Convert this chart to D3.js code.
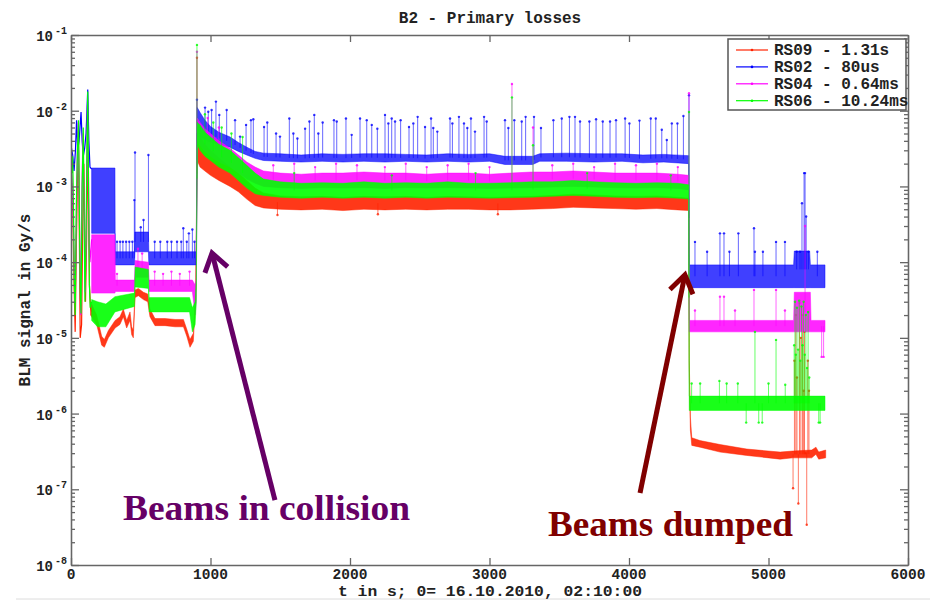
<!DOCTYPE html>
<html>
<head>
<meta charset="utf-8">
<script src="https://cdn.jsdelivr.net/npm/d3@7/dist/d3.min.js"></script>
<style>
body { margin: 0; background: #fff; }
</style>
</head>
<body>
<div id="chart"></div>
<script>
// tick labels
var xTicks = [0, 1000, 2000, 3000, 4000, 5000, 6000];
var yDecades = [1e-8, 1e-7, 1e-6, 1e-5, 1e-4, 1e-3, 1e-2, 1e-1];
var yExponents = ["-8", "-7", "-6", "-5", "-4", "-3", "-2", "-1"];

var seriesNames = ["RS09 - 1.31s", "RS02 - 80us", "RS04 - 0.64ms", "RS06 - 10.24ms"];
var colors = ["#ff2200", "#0000ff", "#ff00ff", "#00ff00"];
var bandOpacity = [0.9, 0.75, 0.85, 0.9];

// first 150 s, read point by point  [t, value]
var redEarly = [[0, 8e-4], [8, 1.1e-3], [14, 4e-4], [22, 5e-5], [30, 1.2e-5], [38, 1.5e-4], [46, 1.2e-3],
    [54, 3e-3], [60, 2e-4], [66, 1e-5], [76, 1.5e-5], [84, 3e-4], [92, 2e-3], [98, 3e-4], [104, 3e-5],
    [112, 2e-4], [120, 3.7e-3], [126, 5e-4], [132, 5e-5], [140, 2.5e-5], [148, 2.2e-5]];
var blueEarly = [[0, 3.5e-3], [12, 2.6e-3], [22, 1.6e-3], [32, 3e-3], [40, 7.5e-3], [48, 3e-3], [58, 4e-3],
    [72, 9.6e-3], [80, 4e-3], [88, 2.5e-3], [98, 3.2e-3], [108, 5e-3], [120, 1.9e-2], [128, 4e-3],
    [136, 1.8e-3], [148, 1.7e-3]];
var pinkEarly = [[0, 2e-3], [8, 1.2e-3], [16, 4e-4], [24, 8e-5], [30, 3e-5], [36, 2e-4], [44, 2e-3],
    [52, 7e-3], [58, 1e-3], [64, 1e-4], [70, 2e-5], [78, 8e-4], [86, 5e-3], [94, 6e-4], [102, 4e-5],
    [110, 3e-4], [118, 1.2e-2], [124, 2e-3], [130, 2e-4], [136, 1e-4], [148, 2e-4]];
var greenEarly = [[0, 2.2e-3], [6, 1.5e-3], [12, 2.5e-3], [18, 5e-4], [24, 5e-5], [30, 2e-5], [38, 5e-4],
    [46, 3e-3], [54, 7.5e-3], [60, 5e-4], [66, 4e-5], [72, 2.1e-5], [80, 1e-3], [88, 6e-3], [94, 4e-4],
    [100, 3e-5], [108, 2e-4], [114, 3e-3], [120, 1.8e-2], [126, 1e-3], [132, 5e-5], [138, 2.5e-5], [148, 3e-5]];

// noise band of each signal  [t, low, high]
var redBand = [[140, 2e-5, 3e-5], [184, 1.5e-5, 2e-5], [220, 8e-6, 1.05e-5], [239, 7.5e-6, 9.5e-6],
    [268, 1e-5, 1.25e-5], [316, 1.35e-5, 1.7e-5], [351, 1.5e-5, 1.9e-5], [375, 1.9e-5, 2.4e-5],
    [399, 1.35e-5, 1.7e-5], [423, 1.7e-5, 2.2e-5], [435, 1.1e-5, 1.4e-5], [447, 1e-5, 1.25e-5],
    [459, 3.4e-5, 4.3e-5], [483, 3.6e-5, 4.5e-5], [519, 3.2e-5, 4e-5], [550, 3e-5, 3.8e-5],
    [566, 1.9e-5, 2.4e-5], [602, 1.45e-5, 1.8e-5], [674, 1.45e-5, 1.8e-5], [746, 1.4e-5, 1.75e-5],
    [806, 1.4e-5, 1.75e-5], [830, 1.05e-5, 1.3e-5], [853, 7.5e-6, 9.5e-6], [877, 9e-6, 1.15e-5],
    [894, 3.4e-5, 4.5e-5], [905, 2.2e-3, 5e-3], [925, 1.8e-3, 4.5e-3], [960, 1.6e-3, 3.6e-3],
    [1000, 1.4e-3, 3e-3], [1060, 1.2e-3, 2.4e-3], [1140, 1e-3, 1.8e-3], [1200, 8.5e-4, 1.5e-3],
    [1260, 6.8e-4, 1.2e-3], [1320, 5.6e-4, 9.5e-4], [1380, 5.2e-4, 8.2e-4], [1500, 5.0e-4, 7.5e-4],
    [1650, 4.9e-4, 7.3e-4], [1800, 5.0e-4, 7.4e-4], [1950, 4.8e-4, 7.2e-4], [2100, 5.0e-4, 7.4e-4],
    [2250, 4.9e-4, 7.3e-4], [2400, 5.0e-4, 7.4e-4], [2550, 4.9e-4, 7.2e-4], [2700, 5.0e-4, 7.4e-4],
    [2850, 5.0e-4, 7.3e-4], [3000, 4.9e-4, 7.2e-4], [3150, 4.9e-4, 7.3e-4], [3300, 5.0e-4, 7.4e-4],
    [3450, 5.1e-4, 7.6e-4], [3600, 5.3e-4, 7.9e-4], [3750, 5.2e-4, 7.7e-4], [3900, 5.1e-4, 7.5e-4],
    [4050, 5.0e-4, 7.4e-4], [4200, 5.1e-4, 7.5e-4], [4350, 4.9e-4, 7.2e-4], [4428, 4.8e-4, 7.0e-4],
    [4432, 3.5e-6, 5e-6], [4440, 6e-7, 9e-7], [4450, 3.8e-7, 4.8e-7], [4509, 3.6e-7, 4.4e-7],
    [4653, 3.1e-7, 3.9e-7], [4844, 2.8e-7, 3.4e-7], [5083, 2.5e-7, 3.1e-7], [5175, 2.6e-7, 3.2e-7],
    [5310, 2.6e-7, 3.3e-7], [5340, 2.9e-7, 3.6e-7], [5360, 2.5e-7, 3.1e-7], [5410, 2.6e-7, 3.3e-7]];
var blueBand = [[148, 2.4e-4, 1.75e-3], [315, 2.4e-4, 1.75e-3], [317, 9.2e-5, 1.37e-4], [455, 9.2e-5, 1.37e-4],
    [458, 1.37e-4, 2.5e-4], [555, 1.37e-4, 2.5e-4], [558, 9.2e-5, 1.37e-4], [898, 9.2e-5, 1.37e-4],
    [905, 5e-3, 1.1e-2], [925, 4.5e-3, 9.5e-3], [960, 4.2e-3, 7.5e-3], [1000, 3.8e-3, 6.2e-3],
    [1060, 3.6e-3, 5.2e-3], [1140, 3.3e-3, 4.5e-3], [1200, 2.9e-3, 3.8e-3], [1260, 2.6e-3, 3.3e-3],
    [1320, 2.35e-3, 2.9e-3], [1380, 2.2e-3, 2.75e-3], [1500, 2.15e-3, 2.7e-3], [1650, 2.1e-3, 2.6e-3],
    [1800, 2.15e-3, 2.7e-3], [1950, 2.1e-3, 2.65e-3], [2100, 2.15e-3, 2.7e-3], [2250, 2.1e-3, 2.7e-3],
    [2400, 2.15e-3, 2.65e-3], [2550, 2.1e-3, 2.6e-3], [2700, 2.15e-3, 2.7e-3], [2850, 2.1e-3, 2.65e-3],
    [3000, 2.15e-3, 2.7e-3], [3110, 1.95e-3, 2.5e-3], [3310, 1.95e-3, 2.5e-3], [3360, 2.15e-3, 2.7e-3],
    [3550, 2.15e-3, 2.75e-3], [3750, 2.1e-3, 2.7e-3], [3950, 2.15e-3, 2.7e-3], [4100, 2.05e-3, 2.6e-3],
    [4250, 2.1e-3, 2.65e-3], [4428, 2.0e-3, 2.55e-3], [4432, 4.6e-5, 9.2e-5], [5180, 4.6e-5, 9.2e-5],
    [5185, 4.6e-5, 1.4e-4], [5295, 4.6e-5, 1.4e-4], [5300, 4.6e-5, 9.2e-5], [5405, 4.6e-5, 9.2e-5]];
var pinkBand = [[148, 3.9e-5, 2.3e-4], [315, 3.9e-5, 2.3e-4], [318, 4.1e-5, 5.8e-5], [455, 4.1e-5, 5.8e-5],
    [460, 6.3e-5, 1.05e-4], [555, 6.3e-5, 1.0e-4], [560, 4.1e-5, 5.8e-5], [870, 4.1e-5, 5.8e-5],
    [890, 2e-5, 5e-5], [898, 3e-5, 6e-5], [905, 4e-3, 8e-3], [925, 3.5e-3, 7e-3], [960, 2.9e-3, 5.8e-3],
    [1000, 2.5e-3, 5e-3], [1060, 2.1e-3, 4e-3], [1140, 1.8e-3, 3.2e-3], [1200, 1.5e-3, 2.6e-3],
    [1260, 1.25e-3, 2.1e-3], [1320, 1.1e-3, 1.8e-3], [1380, 1.0e-3, 1.6e-3], [1500, 9.6e-4, 1.5e-3],
    [1650, 9.4e-4, 1.45e-3], [1800, 9.6e-4, 1.5e-3], [1950, 9.5e-4, 1.5e-3], [2100, 9.6e-4, 1.55e-3],
    [2250, 9.4e-4, 1.5e-3], [2400, 9.6e-4, 1.5e-3], [2550, 9.5e-4, 1.45e-3], [2700, 9.6e-4, 1.5e-3],
    [2850, 9.5e-4, 1.5e-3], [3000, 9.4e-4, 1.45e-3], [3150, 9.5e-4, 1.5e-3], [3300, 9.6e-4, 1.55e-3],
    [3450, 9.8e-4, 1.55e-3], [3600, 1.0e-3, 1.6e-3], [3750, 9.8e-4, 1.55e-3], [3900, 9.6e-4, 1.5e-3],
    [4050, 9.5e-4, 1.5e-3], [4200, 9.6e-4, 1.5e-3], [4350, 9.4e-4, 1.45e-3], [4428, 9.0e-4, 1.4e-3],
    [4432, 1.2e-5, 1.7e-5], [5180, 1.2e-5, 1.7e-5], [5185, 1.2e-5, 4e-5], [5300, 1.2e-5, 4e-5],
    [5305, 1.2e-5, 1.7e-5], [5405, 1.2e-5, 1.7e-5]];
var greenBand = [[148, 1.7e-5, 3.2e-5], [190, 1.4e-5, 3e-5], [250, 1.4e-5, 2.8e-5], [315, 2.2e-5, 3.5e-5],
    [455, 2.6e-5, 3.9e-5], [460, 4.7e-5, 8.6e-5], [555, 4.5e-5, 8e-5], [560, 2.2e-5, 3.4e-5],
    [850, 2.2e-5, 3.4e-5], [870, 1.2e-5, 2.5e-5], [890, 1.5e-5, 3e-5], [898, 3e-5, 6e-5],
    [905, 3.5e-3, 7e-3], [925, 3e-3, 6.5e-3], [960, 2.5e-3, 5.2e-3], [1000, 2.2e-3, 4.5e-3],
    [1060, 1.8e-3, 3.6e-3], [1140, 1.5e-3, 3e-3], [1200, 1.2e-3, 2.4e-3], [1260, 9.5e-4, 1.9e-3],
    [1320, 8e-4, 1.5e-3], [1380, 7.6e-4, 1.25e-3], [1500, 7.2e-4, 1.15e-3], [1650, 7.0e-4, 1.1e-3],
    [1800, 7.2e-4, 1.12e-3], [1950, 7.0e-4, 1.1e-3], [2100, 7.2e-4, 1.15e-3], [2250, 7.0e-4, 1.1e-3],
    [2400, 7.2e-4, 1.12e-3], [2550, 7.0e-4, 1.1e-3], [2700, 7.2e-4, 1.15e-3], [2850, 7.1e-4, 1.1e-3],
    [3000, 7.0e-4, 1.1e-3], [3150, 7.1e-4, 1.12e-3], [3300, 7.2e-4, 1.15e-3], [3450, 7.4e-4, 1.15e-3],
    [3600, 7.6e-4, 1.2e-3], [3750, 7.4e-4, 1.15e-3], [3900, 7.2e-4, 1.12e-3], [4050, 7.1e-4, 1.1e-3],
    [4200, 7.2e-4, 1.12e-3], [4350, 7.0e-4, 1.1e-3], [4428, 6.8e-4, 1.05e-3], [4432, 1.1e-6, 1.7e-6],
    [5405, 1.1e-6, 1.7e-6]];

// single spikes above / below the band  [t, value]
var redSpikes = [[903, 5e-2], [1480, 4.2e-4], [2200, 4.3e-4], [3060, 4.3e-4],
    [5176, 1.03e-7], [5186, 5e-6], [5196, 2e-5], [5204, 3e-6], [5214, 6.5e-8], [5222, 2.9e-5],
    [5232, 1e-5], [5244, 2e-5], [5252, 2e-6], [5258, 1.2e-5], [5266, 3e-7], [5274, 3.4e-8],
    [5282, 5e-6], [5290, 2e-6]];
var blueSpikes = [[330, 1.86e-4], [352, 1.86e-4], [372, 1.86e-4], [395, 1.86e-4], [418, 1.86e-4],
    [440, 1.86e-4], [454, 6.6e-4], [459, 2.8e-3], [500, 2.9e-4], [520, 3.6e-4], [555, 2.6e-3],
    [600, 1.86e-4], [640, 1.86e-4], [690, 1.86e-4], [720, 1.86e-4], [760, 1.86e-4], [790, 1.86e-4],
    [805, 2.8e-4], [830, 1.86e-4], [845, 2.4e-4], [870, 2.7e-4], [885, 1.86e-4], [903, 1.4e-2],
    [961, 1.1e-2], [984, 9.7e-3], [1008, 1.02e-2], [1039, 1.32e-2], [1063, 8.8e-3], [1116, 1.02e-2],
    [1176, 7.5e-3], [1212, 4.55e-3], [1255, 6.5e-3], [1290, 7.5e-3], [1307, 7.7e-3], [1384, 6.1e-3],
    [1407, 7e-3], [1470, 5e-3], [1498, 4.55e-3], [1565, 7.9e-3], [1594, 5e-3], [1623, 4.3e-3],
    [1678, 5.8e-3], [1709, 7.2e-3], [1744, 8.8e-3], [1773, 5e-3], [1804, 7e-3], [1885, 7.5e-3],
    [1905, 7.2e-3], [1971, 7.9e-3], [2012, 4.8e-3], [2072, 7.9e-3], [2120, 7.5e-3], [2156, 6.5e-3],
    [2196, 5.8e-3], [2251, 8.8e-3], [2275, 6.8e-3], [2299, 7.9e-3], [2323, 7.2e-3], [2363, 7.5e-3],
    [2423, 6.1e-3], [2454, 6.8e-3], [2485, 8.3e-3], [2538, 6.1e-3], [2581, 7.9e-3], [2597, 5.9e-3],
    [2626, 5.3e-3], [2717, 7.9e-3], [2734, 6.8e-3], [2781, 8.3e-3], [2817, 6.8e-3], [2841, 5.9e-3],
    [2867, 7.9e-3], [2896, 5.3e-3], [2961, 8.3e-3], [2980, 7.2e-3], [3111, 7.5e-3], [3135, 5.9e-3],
    [3178, 7.5e-3], [3231, 7.2e-3], [3259, 8.3e-3], [3319, 8.3e-3], [3369, 5.9e-3], [3458, 7.5e-3],
    [3518, 7.9e-3], [3573, 8.3e-3], [3613, 8.3e-3], [3649, 7.2e-3], [3716, 7.2e-3], [3764, 7.7e-3],
    [3812, 7.2e-3], [3864, 7.2e-3], [3907, 7.5e-3], [3972, 7.9e-3], [4003, 6.8e-3], [4075, 7.4e-3],
    [4156, 7.9e-3], [4192, 7.9e-3], [4235, 5.6e-3], [4271, 4.1e-3], [4307, 6.8e-3], [4347, 6.8e-3],
    [4390, 8.5e-3], [4430, 1.6e-2],
    [4473, 1.85e-4], [4560, 1.37e-4], [4652, 2.4e-4], [4681, 2.4e-4], [4720, 1.37e-4], [4784, 2.4e-4],
    [4896, 2.8e-4], [4903, 1.37e-4], [4960, 1.37e-4], [5054, 1.85e-4], [5118, 1.85e-4], [5202, 1.37e-4],
    [5226, 1.37e-4], [5240, 6e-4], [5255, 1.5e-3], [5262, 1.5e-3], [5270, 4e-4], [5286, 1.37e-4],
    [5350, 1.37e-4]];
var pinkSpikes = [[330, 7e-5], [480, 1.5e-4], [510, 1.3e-4], [600, 7.5e-5], [660, 7e-5], [720, 7.5e-5],
    [780, 7e-5], [850, 7.5e-5], [903, 6e-2], [980, 8e-3], [1060, 6e-3], [1450, 1.9e-3], [1600, 2e-3],
    [1750, 1.8e-3], [1900, 2e-3], [2050, 1.9e-3], [2250, 1.8e-3], [2400, 2e-3], [2550, 1.8e-3],
    [2700, 1.9e-3], [2850, 2e-3], [3000, 1.8e-3], [3161, 2.25e-2], [3312, 6e-3], [3450, 1.9e-3],
    [3600, 2e-3], [3750, 1.8e-3], [3900, 2e-3], [4050, 1.9e-3], [4200, 2e-3], [4350, 1.8e-3],
    [4430, 1.7e-2], [4473, 2.3e-5], [4652, 3.5e-5], [4681, 3.5e-5], [4760, 2.3e-5], [4896, 4.3e-5],
    [5054, 4.3e-5], [5118, 2.3e-5], [5262, 3e-4], [5381, 5.6e-6], [5395, 5.6e-6]];
var greenSpikes = [[903, 7.4e-2], [960, 9e-3], [1020, 7e-3], [1080, 6e-3], [1150, 5e-3], [1230, 4.5e-3],
    [1600, 1.5e-3], [2300, 1.4e-3], [2900, 1.5e-3], [3161, 1.5e-2], [3312, 3.5e-3], [3700, 1.5e-3],
    [4300, 1.4e-3], [4430, 9.6e-3], [4449, 2.5e-6], [4510, 2.5e-6], [4648, 2.7e-6], [4700, 2.5e-6],
    [4780, 2.5e-6], [4840, 7.6e-7], [4903, 1.2e-5], [4930, 7.6e-7], [4955, 7.6e-7], [5000, 2.5e-6],
    [5054, 9.4e-6], [5120, 2.4e-6], [5184, 8e-6], [5190, 3e-5], [5196, 6e-6], [5204, 2.5e-5],
    [5212, 7e-6], [5220, 3.1e-5], [5228, 5e-6], [5236, 2.6e-5], [5244, 8e-6], [5252, 3e-5],
    [5260, 6e-6], [5268, 2e-5], [5276, 4e-6], [5284, 2.2e-5], [5292, 3e-6], [5360, 7.6e-7], [5370, 7.6e-7]];

// annotations: text start, arrow tail and tip in data units
var collisionNote = {text: "Beams in collision", t: 373, v: 3.9e-8, tail: [1462, 7.2e-8], tip: [1011, 1.32e-4]};
var dumpNote = {text: "Beams dumped", t: 3419, v: 2.4e-8, tail: [4079, 8.9e-8], tip: [4401, 6.8e-5]};

var W = 930, H = 601;
var svg = d3.select("#chart").append("svg").attr("width", W).attr("height", H);

var x = d3.scaleLinear().domain([0, 6000]).range([71, 908]);
var y = d3.scaleLog().domain([1e-8, 1e-1]).range([565, 35]);

svg.append("line").attr("x1", 16).attr("x2", W).attr("y1", 599).attr("y2", 599)
    .attr("stroke", "#dcdcdc").attr("stroke-width", 1);

svg.append("clipPath").attr("id", "clip").append("rect")
    .attr("x", 71).attr("y", 35).attr("width", 837).attr("height", 530);
var plot = svg.append("g").attr("clip-path", "url(#clip)");

var series = [
    {name: seriesNames[0], color: colors[0], op: bandOpacity[0], early: redEarly, band: redBand, spikes: redSpikes},
    {name: seriesNames[1], color: colors[1], op: bandOpacity[1], early: blueEarly, band: blueBand, spikes: blueSpikes},
    {name: seriesNames[2], color: colors[2], op: bandOpacity[2], early: pinkEarly, band: pinkBand, spikes: pinkSpikes},
    {name: seriesNames[3], color: colors[3], op: bandOpacity[3], early: greenEarly, band: greenBand, spikes: greenSpikes}
];

// middle of the band at time t (log interpolation), used as foot of a spike
function bandMid(band, t) {
    for (var i = 0; i < band.length - 1; i++) {
        if (t >= band[i][0] && t <= band[i + 1][0]) {
            var a = band[i], b = band[i + 1];
            var f = (t - a[0]) / (b[0] - a[0]);
            var ma = Math.log(a[1] * a[2]) / 2, mb = Math.log(b[1] * b[2]) / 2;
            return Math.exp(ma + f * (mb - ma));
        }
    }
    var last = band[band.length - 1];
    return Math.sqrt(last[1] * last[2]);
}

var area = d3.area()
    .x(function(d) { return x(d[0]); })
    .y0(function(d) { return y(d[1]); })
    .y1(function(d) { return y(d[2]); });
var line = d3.line()
    .x(function(d) { return x(d[0]); })
    .y(function(d) { return y(d[1]); });

series.forEach(function(s) {
    var g = plot.append("g");
    g.append("path").datum(s.band).attr("d", area)
        .attr("fill", s.color).attr("fill-opacity", s.op)
        .attr("stroke", s.color).attr("stroke-width", 0.8).attr("stroke-opacity", 0.6);
    g.append("path").datum(s.early).attr("d", line)
        .attr("fill", "none").attr("stroke", s.color).attr("stroke-width", 1.2);
    g.selectAll(".spike").data(s.spikes).enter().append("line")
        .attr("class", "spike")
        .attr("x1", function(d) { return x(d[0]); })
        .attr("x2", function(d) { return x(d[0]); })
        .attr("y1", function(d) { return y(bandMid(s.band, d[0])); })
        .attr("y2", function(d) { return y(d[1]); })
        .attr("stroke", s.color).attr("stroke-width", 1).attr("stroke-opacity", 0.6);
    g.selectAll(".tip").data(s.spikes).enter().append("circle")
        .attr("class", "tip")
        .attr("cx", function(d) { return x(d[0]); })
        .attr("cy", function(d) { return y(d[1]); })
        .attr("r", 1.2).attr("fill", s.color).attr("fill-opacity", 0.8);
});

// axes, ticks pointing inward
var minorTicks = y.ticks().filter(function(v) { return yDecades.indexOf(v) < 0; });

function styleAxis(g) {
    g.selectAll("path, line").attr("stroke", "#666").attr("stroke-width", 1.3);
    g.selectAll("text").remove();
}
svg.append("g").attr("transform", "translate(0,565)")
    .call(d3.axisBottom(x).tickValues(xTicks).tickSizeInner(-7).tickSizeOuter(0)).call(styleAxis);
svg.append("g").attr("transform", "translate(0,35)")
    .call(d3.axisTop(x).tickValues(xTicks).tickSizeInner(-7).tickSizeOuter(0)).call(styleAxis);
svg.append("g").attr("transform", "translate(71,0)")
    .call(d3.axisLeft(y).tickValues(yDecades).tickSizeInner(-8).tickSizeOuter(0)).call(styleAxis);
svg.append("g").attr("transform", "translate(71,0)")
    .call(d3.axisLeft(y).tickValues(minorTicks).tickSizeInner(-4).tickSizeOuter(0)).call(styleAxis);
svg.append("g").attr("transform", "translate(908,0)")
    .call(d3.axisRight(y).tickValues(yDecades).tickSizeInner(-8).tickSizeOuter(0)).call(styleAxis);
svg.append("g").attr("transform", "translate(908,0)")
    .call(d3.axisRight(y).tickValues(minorTicks).tickSizeInner(-4).tickSizeOuter(0)).call(styleAxis);

var mono = "'Liberation Mono', 'DejaVu Sans Mono', monospace";

svg.selectAll(".xlab").data(xTicks).enter().append("text")
    .attr("x", function(d) { return x(d); }).attr("y", 579)
    .attr("text-anchor", "middle").attr("font-family", mono).attr("font-weight", "bold")
    .attr("font-size", 14.5).attr("fill", "#222").text(function(d) { return d; });

yDecades.forEach(function(v, i) {
    svg.append("text").attr("x", 53).attr("y", y(v) + 6).attr("text-anchor", "end")
        .attr("font-family", mono).attr("font-weight", "bold").attr("font-size", 14)
        .attr("fill", "#222").text("10");
    svg.append("text").attr("x", 55).attr("y", y(v) - 1)
        .attr("font-family", mono).attr("font-weight", "bold").attr("font-size", 10)
        .attr("fill", "#222").text(yExponents[i]);
});

svg.append("text").attr("x", 490).attr("y", 23).attr("text-anchor", "middle")
    .attr("font-family", mono).attr("font-weight", "bold").attr("font-size", 16)
    .attr("fill", "#222").text("B2 - Primary losses");
svg.append("text").attr("x", 490).attr("y", 596).attr("text-anchor", "middle")
    .attr("font-family", mono).attr("font-weight", "bold").attr("font-size", 14)
    .attr("textLength", 304).attr("lengthAdjust", "spacingAndGlyphs")
    .attr("fill", "#222").text("t in s; 0= 16.10.2010, 02:10:00");
svg.append("text").attr("transform", "translate(30,300) rotate(-90)").attr("text-anchor", "middle")
    .attr("font-family", mono).attr("font-weight", "bold").attr("font-size", 16)
    .attr("fill", "#222").text("BLM signal in Gy/s");

// legend
var legend = svg.append("g");
legend.append("rect").attr("x", 728).attr("y", 39).attr("width", 178).attr("height", 71)
    .attr("fill", "#fff").attr("stroke", "#555").attr("stroke-width", 1.5);
series.forEach(function(s, i) {
    var ly = 50 + i * 16.9;
    legend.append("line").attr("x1", 736).attr("x2", 768).attr("y1", ly).attr("y2", ly)
        .attr("stroke", s.color).attr("stroke-width", 1.2);
    legend.append("circle").attr("cx", 752).attr("cy", ly).attr("r", 1.3).attr("fill", s.color);
    legend.append("text").attr("x", 774).attr("y", ly + 5)
        .attr("font-family", mono).attr("font-weight", "bold").attr("font-size", 16)
        .attr("fill", "#222").text(s.name);
});

// annotations
function drawNote(note, color, width) {
    var tx = x(note.tip[0]), ty = y(note.tip[1]);
    var sx = x(note.tail[0]), sy = y(note.tail[1]);
    var ang = Math.atan2(sy - ty, sx - tx);
    var arm = 21, spread = 34 * Math.PI / 180;
    svg.append("line").attr("x1", sx).attr("y1", sy).attr("x2", tx).attr("y2", ty)
        .attr("stroke", color).attr("stroke-width", 5);
    svg.append("path")
        .attr("d", "M" + (tx + arm * Math.cos(ang - spread)) + "," + (ty + arm * Math.sin(ang - spread)) +
            "L" + tx + "," + ty +
            "L" + (tx + arm * Math.cos(ang + spread)) + "," + (ty + arm * Math.sin(ang + spread)))
        .attr("fill", "none").attr("stroke", color).attr("stroke-width", 5)
        .attr("stroke-linejoin", "miter");
    svg.append("text").attr("x", x(note.t)).attr("y", y(note.v))
        .attr("font-family", "'Liberation Serif', 'DejaVu Serif', serif").attr("font-size", 36)
        .attr("font-weight", "bold")
        .attr("textLength", width).attr("lengthAdjust", "spacingAndGlyphs")
        .attr("fill", color).text(note.text);
}
drawNote(collisionNote, "#660066", 287);
drawNote(dumpNote, "#800000", 245);
</script>
</body>
</html>
